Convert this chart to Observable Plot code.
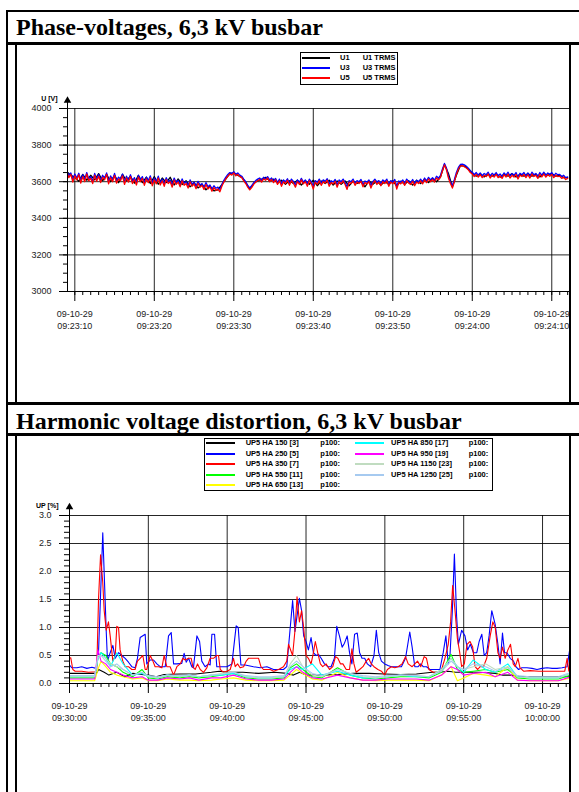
<!DOCTYPE html>
<html><head><meta charset="utf-8">
<script src="https://cdn.jsdelivr.net/npm/d3@7"></script>
<script src="https://cdn.jsdelivr.net/npm/@observablehq/plot@0.6"></script>
<style>
html,body{margin:0;padding:0;background:#fff;}
body{position:relative;width:579px;height:792px;overflow:hidden;}
.ln{position:absolute;background:#000;z-index:5;}
.title{position:absolute;left:16px;font-family:"Liberation Serif","Times New Roman",serif;font-weight:bold;font-size:24px;line-height:24px;white-space:nowrap;color:#000;}
.chart{position:absolute;left:0;}
.legend{position:absolute;box-sizing:border-box;border:1px solid #000;background:#fff;z-index:3;}
.lgl{position:absolute;z-index:4;}
.lgt{position:absolute;font:bold 7.5px "Liberation Sans",Arial,sans-serif;line-height:7.5px;white-space:nowrap;color:#000;transform:translateY(-50%);z-index:4;}
</style></head><body>
<script>
// ---------- shared ----------
const dateLabel = "09-10-29";
const titles = ["Phase-voltages, 6,3 kV busbar", "Harmonic voltage distortion, 6,3 kV busbar"];

// ---------- chart 1: phase voltages ----------
const phaseNames = ["U1", "U3", "U5"];
const phaseDesc = ["U1 TRMS", "U3 TRMS", "U5 TRMS"];
const phaseColors = ["#000000", "#0000ff", "#ff0000"];
const phaseStart = "09:23:09";
const u1StepSec = 0.5;    // sample spacing of u1
const u35StepSec = 0.25;  // sample spacing of u3, u5
const phaseDomain = ["09:23:09.08", "09:24:12.23"];
const phaseYTicks = [3000, 3200, 3400, 3600, 3800, 4000];
const phaseXTicks = ["09:23:10", "09:23:20", "09:23:30", "09:23:40", "09:23:50", "09:24:00", "09:24:10"];
const u1 = [
3655,3635,3625,3602,3640,3608,3635,3610,3644,3605,
3640,3600,3635,3595,3640,3605,3630,3592,3635,3595,
3625,3590,3628,3586,3620,3595,3624,3582,3615,3585,
3605,3572,3595,3566,3585,3556,3575,3550,3556,3584,
3615,3644,3648,3635,3625,3595,3560,3590,3605,3614,
3624,3605,3614,3592,3608,3586,3605,3590,3608,3582,
3605,3586,3608,3578,3604,3590,3608,3582,3604,3586,
3604,3578,3603,3590,3600,3572,3604,3586,3603,3582,
3600,3586,3604,3578,3603,3586,3605,3582,3608,3590,
3614,3595,3618,3600,3625,3694,3645,3572,3635,3688,
3685,3670,3648,3630,3644,3626,3640,3630,3644,3625,
3640,3630,3644,3626,3640,3630,3645,3630,3640,3626,
3644,3635,3645,3630,3635,3622,3622];
const u3 = [
3660,3632,3648,3612,3642,3620,3646,3605,
3638,3612,3650,3615,3628,3602,3645,3612,
3640,3606,3635,3620,3648,3600,3632,3610,
3645,3604,3625,3615,3642,3598,3630,3608,
3638,3602,3622,3594,3634,3610,3628,3592,
3625,3606,3632,3590,3620,3598,3630,3594,
3615,3588,3622,3600,3610,3582,3620,3596,
3608,3584,3615,3592,3600,3578,3610,3586,
3598,3574,3602,3582,3590,3570,3595,3572,
3582,3560,3578,3564,3570,3558,3585,3608,
3625,3640,3650,3645,3655,3640,3648,3636,
3630,3614,3600,3580,3566,3578,3594,3606,
3614,3620,3608,3624,3616,3628,3610,3620,
3605,3618,3596,3614,3588,3610,3600,3616,
3592,3614,3602,3582,3610,3596,3618,3598,
3610,3588,3614,3600,3575,3606,3596,3614,
3592,3610,3602,3616,3588,3605,3598,3612,
3582,3610,3600,3614,3595,3572,3606,3600,
3614,3592,3606,3600,3612,3585,3604,3598,
3610,3578,3602,3614,3596,3606,3590,3610,
3600,3614,3588,3606,3598,3612,3575,3604,
3598,3610,3592,3614,3602,3595,3612,3590,
3608,3600,3614,3598,3620,3605,3624,3610,
3622,3608,3630,3620,3635,3670,3700,3675,
3630,3600,3578,3612,3650,3678,3694,3696,
3692,3684,3674,3660,3652,3638,3650,3636,
3648,3632,3645,3638,3652,3630,3646,3635,
3650,3632,3642,3628,3648,3636,3652,3630,
3645,3635,3650,3626,3646,3638,3650,3632,
3648,3630,3652,3638,3645,3628,3650,3636,
3652,3635,3648,3640,3650,3632,3646,3638,
3640,3628,3635,3622,3626];
const u5 = [
3650,3622,3640,3598,3632,3610,3638,3592,
3628,3600,3642,3605,3618,3590,3636,3602,
3630,3595,3625,3610,3640,3588,3622,3600,
3635,3592,3615,3605,3632,3585,3620,3598,
3628,3590,3612,3582,3625,3600,3618,3580,
3615,3595,3622,3578,3610,3588,3620,3582,
3605,3575,3612,3590,3600,3570,3610,3585,
3598,3572,3605,3580,3590,3565,3600,3575,
3588,3562,3592,3570,3580,3558,3585,3560,
3572,3548,3568,3552,3560,3545,3575,3598,
3615,3630,3642,3636,3648,3632,3640,3628,
3622,3605,3590,3570,3555,3568,3585,3598,
3605,3612,3598,3615,3608,3620,3600,3612,
3595,3610,3585,3605,3575,3600,3590,3608,
3580,3605,3592,3570,3600,3585,3610,3588,
3600,3575,3605,3590,3560,3598,3585,3605,
3580,3600,3592,3608,3575,3595,3588,3602,
3570,3600,3590,3605,3585,3558,3598,3590,
3605,3580,3598,3590,3602,3572,3595,3588,
3600,3565,3592,3605,3585,3598,3578,3600,
3590,3605,3575,3598,3588,3602,3560,3595,
3588,3600,3580,3605,3592,3585,3602,3578,
3598,3590,3605,3588,3610,3595,3615,3600,
3612,3598,3620,3610,3625,3660,3692,3665,
3620,3590,3565,3600,3640,3668,3685,3688,
3682,3675,3665,3650,3642,3628,3640,3625,
3638,3622,3635,3628,3642,3620,3636,3625,
3640,3622,3632,3618,3638,3626,3642,3620,
3635,3625,3640,3615,3636,3628,3640,3622,
3638,3620,3642,3628,3635,3618,3640,3626,
3642,3625,3638,3630,3640,3622,3636,3628,
3630,3618,3625,3612,3618];

// ---------- chart 2: harmonics ----------
const harmNames = ["UP5 HA 150 [3]", "UP5 HA 250 [5]", "UP5 HA 350 [7]", "UP5 HA 550 [11]", "UP5 HA 650 [13]",
                   "UP5 HA 850 [17]", "UP5 HA 950 [19]", "UP5 HA 1150 [23]", "UP5 HA 1250 [25]"];
const harmColors = ["#000000", "#0000ff", "#ff0000", "#00ff00", "#ffff00", "#00ffff", "#ff00ff", "#c0dcc0", "#a6caf0"];
const harmSuffix = "p100:";
const harmStart = "09:30:00";
const harmDomain = ["09:30:00", "10:01:42.6"];
const harmYTicks = [0, 0.5, 1.0, 1.5, 2.0, 2.5, 3.0];
const harmXTicks = ["09:30:00", "09:35:00", "09:40:00", "09:45:00", "09:50:00", "09:55:00", "10:00:00"];

// minutes after 09:30:00
const blackMin = [0,1,1.7,1.85,2.2,2.5,3,3.5,4,5,5.5,6,7,8,9,9.5,10,11,12,13,13.8,14.2,14.6,15,16,17,18,19,20,21,22,23,23.5,24,24.5,25,26,27,27.5,28,28.5,29,30,31,31.8];
const blackVal = [0.18,0.18,0.18,0.25,0.20,0.15,0.20,0.12,0.18,0.15,0.12,0.16,0.17,0.17,0.20,0.22,0.20,0.20,0.18,0.20,0.18,0.15,0.20,0.15,0.15,0.16,0.18,0.18,0.17,0.16,0.17,0.20,0.20,0.22,0.20,0.20,0.20,0.18,0.15,0.15,0.13,0.12,0.12,0.12,0.12];

const blueMin = [
0,0.15,0.47,0.78,1.10,1.42,1.69,1.84,2.11,2.33,
2.41,2.58,2.75,2.90,3.11,3.32,3.53,3.74,3.95,4.16,
4.31,4.48,4.80,4.90,5.12,5.33,5.54,5.75,6.07,6.28,
6.45,6.60,6.81,7.12,7.27,7.40,7.55,7.76,7.86,8.08,
8.25,8.39,8.60,8.82,8.92,9.03,9.20,9.34,9.66,9.98,
10.30,10.57,10.70,10.87,11.14,11.67,12.09,12.52,12.94,13.57,
13.78,14.15,14.30,14.58,14.72,14.85,15.00,15.15,15.32,15.47,
15.64,15.79,15.96,16.17,16.38,16.59,16.80,16.95,17.12,17.29,
17.44,17.61,17.76,17.91,18.08,18.25,18.40,18.55,18.72,18.89,
19.10,19.31,19.46,19.61,19.78,19.99,20.20,20.41,20.73,21.05,
21.31,21.58,21.73,21.90,22.11,22.28,22.43,22.64,22.86,23.17,
23.49,23.70,23.87,24.02,24.13,24.28,24.41,24.55,24.66,24.87,
25.08,25.25,25.42,25.62,25.83,25.98,26.15,26.30,26.46,26.61,
26.78,27.00,27.17,27.31,27.46,27.59,27.74,27.95,28.16,28.31,
28.48,28.69,29.01,29.33,29.65,29.97,30.29,30.61,30.92,31.24,
31.56,31.79];
const blueVal = [
0.33,0.28,0.28,0.30,0.27,0.29,0.27,0.55,2.69,0.93,
0.40,0.55,0.68,0.45,0.55,0.50,0.45,0.38,0.30,0.28,
0.45,0.82,0.88,0.35,0.42,0.42,0.35,0.30,0.30,0.85,
0.91,0.35,0.35,0.36,0.54,0.38,0.45,0.30,0.28,0.85,
0.75,0.40,0.30,0.35,0.33,0.88,0.88,0.30,0.30,0.30,
0.35,1.03,1.00,0.33,0.33,0.30,0.28,0.30,0.25,0.25,
0.30,1.48,0.93,1.52,1.30,0.85,0.75,0.60,0.82,0.55,
0.50,0.52,0.45,0.35,0.30,0.30,0.45,1.02,0.85,0.65,
0.72,0.85,0.55,0.35,0.88,0.90,0.55,0.45,0.45,0.35,
0.30,0.50,0.95,0.55,0.40,0.35,0.32,0.30,0.30,0.30,
0.45,0.92,0.65,0.30,0.30,0.35,0.30,0.30,0.25,0.25,
0.25,0.55,0.85,0.35,0.50,1.30,2.31,1.20,0.70,0.95,
0.85,0.60,0.70,0.55,0.55,0.75,0.88,0.50,0.55,0.85,
1.30,1.05,0.70,0.35,0.90,0.55,0.55,0.45,0.40,0.30,
0.25,0.28,0.28,0.27,0.25,0.27,0.28,0.27,0.27,0.28,
0.30,0.73];

const redMin = [
0,0.08,0.21,0.36,0.78,1.21,1.63,1.73,1.84,1.97,
2.11,2.20,2.33,2.47,2.58,2.75,2.90,3.00,3.11,3.21,
3.38,3.53,3.74,3.95,4.16,4.31,4.48,4.65,4.80,4.90,
5.12,5.29,5.43,5.64,5.86,6.00,6.17,6.38,6.60,6.81,
7.02,7.19,7.34,7.55,7.72,7.82,7.97,8.12,8.29,8.50,
8.71,8.92,9.13,9.34,9.45,9.56,9.77,9.98,10.19,10.40,
10.51,10.66,10.82,11.04,11.21,11.35,11.67,11.99,12.14,12.30,
12.73,12.94,13.26,13.57,13.78,13.89,14.15,14.30,14.43,14.58,
14.72,14.85,15.00,15.15,15.32,15.47,15.59,15.74,15.91,16.06,
16.27,16.49,16.70,16.87,17.02,17.19,17.34,17.55,17.76,17.91,
18.04,18.18,18.40,18.61,18.82,18.97,19.14,19.31,19.56,19.78,
19.99,20.16,20.41,20.63,20.84,21.09,21.31,21.48,21.73,21.90,
22.07,22.28,22.49,22.64,22.79,23.07,23.39,23.60,23.81,24.02,
24.17,24.30,24.45,24.60,24.75,24.87,25.04,25.21,25.40,25.57,
25.72,25.89,26.04,26.25,26.46,26.68,26.85,27.00,27.17,27.31,
27.46,27.63,27.80,27.97,28.14,28.27,28.44,28.57,28.80,29.22,
29.76,30.39,31.03,31.41,31.56,31.67,31.79];
const redVal = [
0.45,0.46,0.25,0.22,0.22,0.20,0.21,0.25,1.50,2.30,
1.80,1.30,0.95,1.10,0.85,0.40,0.50,1.02,1.00,0.60,
0.40,0.30,0.30,0.25,0.25,0.40,0.45,0.50,0.25,0.25,
0.50,0.40,0.30,0.30,0.28,0.50,0.30,0.30,0.15,0.30,
0.35,0.45,0.42,0.45,0.45,0.30,0.25,0.35,0.25,0.20,
0.28,0.45,0.45,0.50,0.50,0.25,0.20,0.22,0.25,0.45,
0.30,0.35,0.28,0.30,0.40,0.45,0.45,0.45,0.30,0.25,
0.25,0.22,0.25,0.30,0.40,0.70,0.50,0.95,1.55,1.10,
1.30,1.00,0.50,0.45,0.35,0.55,0.75,0.55,0.35,0.30,
0.35,0.25,0.30,0.48,0.45,0.35,0.35,0.25,0.25,0.62,
0.35,0.20,0.25,0.30,0.40,0.45,0.35,0.30,0.25,0.22,
0.15,0.25,0.30,0.28,0.30,0.35,0.48,0.35,0.30,0.35,
0.40,0.30,0.48,0.45,0.25,0.20,0.20,0.25,0.45,0.70,
1.10,1.75,1.30,0.80,0.55,0.30,0.35,0.70,0.75,0.65,
0.30,0.25,0.30,0.30,0.45,0.85,1.10,1.00,0.55,0.45,
0.65,0.45,0.60,0.70,0.35,0.30,0.45,0.28,0.22,0.23,
0.22,0.22,0.22,0.22,0.45,0.22,0.25];

const lowMin = [
0,0.8,1.6,1.8,2.0,2.3,2.6,3.0,3.4,4.0,
4.6,5.0,5.6,6.2,7.0,7.6,8.2,9.0,9.6,10.4,
11.2,12.0,12.8,13.6,14.0,14.4,14.8,15.4,16.0,17.0,
17.8,18.6,19.4,20.2,21.0,22.0,22.8,23.6,24.2,24.6,
25.0,25.6,26.4,27.0,27.8,28.4,29.2,30.2,31.0,31.8];
const greenVal = [
0.10,0.10,0.10,0.45,0.55,0.50,0.35,0.30,0.20,0.12,
0.25,0.10,0.08,0.12,0.10,0.12,0.10,0.12,0.15,0.18,
0.10,0.08,0.08,0.10,0.28,0.35,0.25,0.12,0.10,0.28,
0.15,0.10,0.08,0.10,0.12,0.12,0.10,0.20,0.52,0.25,
0.20,0.22,0.25,0.20,0.25,0.10,0.08,0.08,0.08,0.15];
const yellowVal = [
0.05,0.05,0.05,0.25,0.40,0.30,0.20,0.15,0.12,0.08,
0.10,0.05,0.05,0.08,0.06,0.06,0.05,0.06,0.08,0.10,
0.06,0.05,0.05,0.06,0.15,0.25,0.18,0.08,0.06,0.20,
0.10,0.06,0.05,0.06,0.06,0.06,0.05,0.15,0.30,0.05,
0.10,0.18,0.15,0.12,0.30,0.06,0.05,0.05,0.05,0.10];
const cyanVal = [
0.12,0.12,0.12,0.45,0.55,0.45,0.30,0.55,0.35,0.15,
0.18,0.12,0.10,0.15,0.12,0.15,0.12,0.15,0.15,0.18,
0.12,0.10,0.10,0.12,0.25,0.30,0.25,0.35,0.15,0.22,
0.15,0.10,0.10,0.12,0.15,0.12,0.12,0.25,0.45,0.30,
0.20,0.42,0.25,0.20,0.35,0.12,0.10,0.10,0.10,0.18];
const magentaVal = [
0.08,0.08,0.08,0.60,0.40,0.35,0.25,0.20,0.15,0.10,
0.12,0.06,0.06,0.10,0.08,0.10,0.06,0.10,0.10,0.15,
0.08,0.06,0.06,0.08,0.20,0.30,0.20,0.10,0.08,0.15,
0.10,0.06,0.06,0.08,0.08,0.08,0.06,0.15,0.30,0.25,
0.15,0.18,0.20,0.12,0.20,0.06,0.05,0.05,0.05,0.12];
const lightGreenVal = [
0.12,0.12,0.12,0.50,0.50,0.45,0.35,0.30,0.25,0.15,
0.20,0.12,0.10,0.15,0.12,0.15,0.12,0.15,0.18,0.20,
0.12,0.10,0.10,0.12,0.35,0.50,0.30,0.15,0.12,0.25,
0.18,0.12,0.10,0.12,0.15,0.14,0.12,0.25,0.45,0.30,
0.25,0.30,0.35,0.25,0.30,0.12,0.10,0.10,0.10,0.18];
const lightBlueVal = [
0.14,0.14,0.14,0.45,0.50,0.40,0.30,0.35,0.25,0.15,
0.20,0.14,0.12,0.15,0.14,0.15,0.12,0.15,0.16,0.20,
0.14,0.12,0.12,0.14,0.30,0.40,0.30,0.18,0.14,0.25,
0.18,0.14,0.12,0.14,0.15,0.14,0.12,0.22,0.40,0.30,
0.25,0.35,0.30,0.22,0.28,0.14,0.12,0.12,0.12,0.20];

// ---------- helpers ----------
function at(hms) {
  const p = hms.split(":").map(Number);
  return new Date(Date.UTC(2009, 9, 29, p[0], p[1], 0) + Math.round(p[2] * 1000));
}
const hmsFmt = d3.utcFormat("%H:%M:%S");
const body = document.body;
function box(cls, x, y, w, h, extra) {
  const d = document.createElement("div");
  d.className = cls;
  Object.assign(d.style, {left: x + "px", top: y + "px", width: w + "px", height: h + "px"}, extra || {});
  body.appendChild(d);
  return d;
}
function label(text, x, y) {
  const d = document.createElement("div");
  d.className = "lgt";
  d.textContent = text;
  d.style.left = x + "px";
  d.style.top = y + "px";
  body.appendChild(d);
}
const plotStyle = {background: "transparent", fontFamily: "'Liberation Sans', Arial, sans-serif", fontSize: "9px", color: "#000", overflow: "visible"};

// ---------- frame ----------
box("ln", 6, 10, 573, 2);
box("ln", 6, 10, 2, 782);
box("ln", 6, 42, 573, 3);
box("ln", 15, 45, 2, 357);
box("ln", 569, 45, 2, 357);
box("ln", 6, 402, 573, 3);
box("ln", 6, 433, 573, 3);
box("ln", 15, 436, 2, 356);
box("ln", 569, 436, 2, 356);
[[titles[0], 15.2], [titles[1], 408.9]].forEach(([t, y]) => {
  const d = document.createElement("div");
  d.className = "title"; d.textContent = t; d.style.top = y + "px";
  body.appendChild(d);
});

// ---------- chart 1 ----------
const p0 = at(phaseStart).getTime();
const u1Rows = u1.map((v, i) => ({t: new Date(p0 + i * u1StepSec * 1000), v}));
const u3Rows = u3.map((v, i) => ({t: new Date(p0 + i * u35StepSec * 1000), v}));
const u5Rows = u5.map((v, i) => ({t: new Date(p0 + i * u35StepSec * 1000), v}));
const phaseRows = [u1Rows, u3Rows, u5Rows];
const x1Dom = phaseDomain.map(at);
const x1Ticks = phaseXTicks.map(at);
const x1Minor = d3.utcSecond.range(at("09:23:10"), x1Dom[1]);
const y1Minor = d3.range(3000, 4001, 50);

const chart1 = Plot.plot({
  width: 579, height: 357,
  marginLeft: 67, marginRight: 10, marginTop: 63, marginBottom: 111,
  x: {type: "utc", domain: x1Dom},
  y: {domain: [3000, 4000]},
  style: plotStyle,
  marks: [
    Plot.gridY(phaseYTicks, {stroke: "#000", strokeOpacity: 0.85}),
    Plot.gridX(x1Ticks, {stroke: "#000", strokeOpacity: 0.85}),
    Plot.axisY(y1Minor, {tickSize: 4, fill: "none", label: null}),
    Plot.axisY(phaseYTicks, {tickSize: 8, tickPadding: 8, tickFormat: d => String(d), label: null, fill: "#222"}),
    Plot.axisX(x1Minor, {tickSize: 4, fill: "none", label: null}),
    Plot.axisX(x1Ticks, {tickSize: 10, tickPadding: 7, tickFormat: d => dateLabel + "\n" + hmsFmt(d), lineHeight: 1.35, label: null, fill: "#222"}),
    ...phaseRows.map((rows, k) => Plot.line(rows, {x: "t", y: "v", stroke: phaseColors[k], strokeWidth: 1.3, clip: true})),
    Plot.ruleY([3000], {stroke: "#000"}),
    Plot.ruleX([x1Dom[0]], {stroke: "#000", insetTop: -9}),
    Plot.dot([x1Dom[0]], {x: d => d, frameAnchor: "top", symbol: "triangle", r: 2.8, fill: "#000", stroke: null, dy: -8}),
    Plot.text(["U [V]"], {text: d => d, frameAnchor: "top-left", textAnchor: "end", dx: -10, dy: -12, fontWeight: "bold", fontSize: 7})
  ]
});
const c1 = document.createElement("div");
c1.className = "chart"; c1.style.top = "45px";
c1.appendChild(chart1);
body.appendChild(c1);

// legend 1
box("legend", 300, 52, 97.5, 32.5);
phaseNames.forEach((n, k) => {
  const y = 57.7 + k * 10;
  box("lgl", 302, Math.round(y) - 1, 28, 2, {background: phaseColors[k]});
  label(n, 340, y);
  label(phaseDesc[k], 362.7, y);
});

// ---------- chart 2 ----------
const h0 = at(harmStart).getTime();
const toT = m => new Date(h0 + m * 60000);
const harmSeries = [
  [blackMin, blackVal], [blueMin, blueVal], [redMin, redVal],
  [lowMin, greenVal], [lowMin, yellowVal], [lowMin, cyanVal],
  [lowMin, magentaVal], [lowMin, lightGreenVal], [lowMin, lightBlueVal]
];
const x2Dom = harmDomain.map(at);
const x2Ticks = harmXTicks.map(at);
const x2Minor = d3.utcSecond.every(30).range(x2Dom[0], x2Dom[1]);
const y2Minor = d3.range(0, 30).map(i => i / 10);

const chart2 = Plot.plot({
  width: 579, height: 356,
  marginLeft: 69, marginRight: 10, marginTop: 79, marginBottom: 109,
  x: {type: "utc", domain: x2Dom},
  y: {domain: [0, 3]},
  style: plotStyle,
  marks: [
    Plot.gridY(harmYTicks, {stroke: "#000", strokeOpacity: 0.85}),
    Plot.gridX(x2Ticks, {stroke: "#000", strokeOpacity: 0.85}),
    Plot.axisY(y2Minor, {tickSize: 5, fill: "none", label: null}),
    Plot.axisY(harmYTicks, {tickSize: 10, tickPadding: 8, tickFormat: d3.format(".1f"), label: null, fill: "#222"}),
    Plot.axisX(x2Minor, {tickSize: 4, fill: "none", label: null}),
    Plot.axisX(x2Ticks, {tickSize: 10, tickPadding: 7, tickFormat: d => dateLabel + "\n" + hmsFmt(d), lineHeight: 1.35, label: null, fill: "#222"}),
    ...harmSeries.map(([mins, vals], k) => Plot.line(mins.map((m, i) => ({t: toT(m), v: vals[i]})), {x: "t", y: "v", stroke: harmColors[k], strokeWidth: 1.1, clip: true})),
    Plot.ruleY([0], {stroke: "#000"}),
    Plot.ruleX([x2Dom[0]], {stroke: "#000", insetTop: -10}),
    Plot.dot([x2Dom[0]], {x: d => d, frameAnchor: "top", symbol: "triangle", r: 2.8, fill: "#000", stroke: null, dy: -8.5}),
    Plot.text(["UP [%]"], {text: d => d, frameAnchor: "top-left", textAnchor: "end", dx: -11, dy: -12.5, fontWeight: "bold", fontSize: 7})
  ]
});
const c2 = document.createElement("div");
c2.className = "chart"; c2.style.top = "436px";
c2.appendChild(chart2);
body.appendChild(c2);

// legend 2
box("legend", 204.3, 438.3, 288.4, 52.4);
harmNames.forEach((n, k) => {
  const col = k < 5 ? 0 : 1;
  const row = col === 0 ? k : k - 5;
  const y = 443.3 + row * 10.4;
  const lx = col === 0 ? 206 : 355;
  const tx = col === 0 ? 245.7 : 391;
  const px = col === 0 ? 320.3 : 468.7;
  box("lgl", lx, Math.round(y) - 1, 29, 2, {background: harmColors[k]});
  label(n, tx, y);
  label(harmSuffix, px, y);
});
</script>
</body></html>
